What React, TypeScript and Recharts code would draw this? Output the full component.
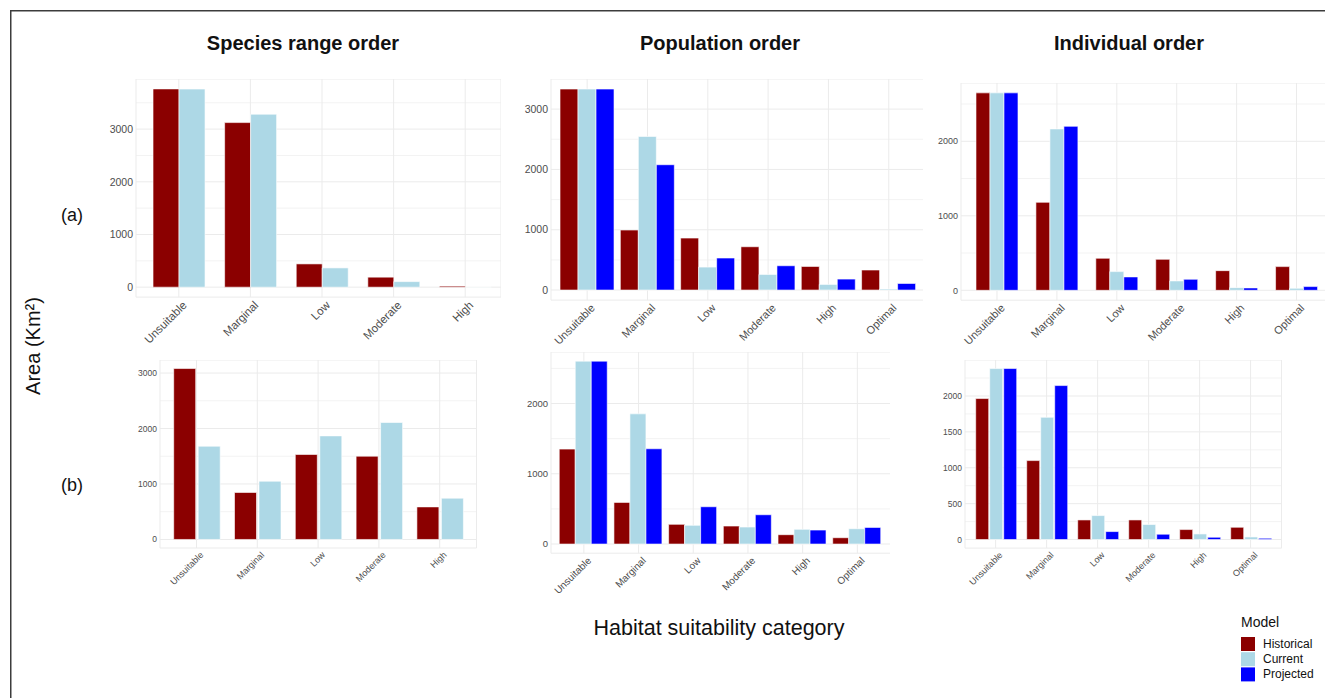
import { Bar, BarChart, CartesianGrid, XAxis, YAxis } from 'recharts'

const cats5 = ['Unsuitable', 'Marginal', 'Low', 'Moderate', 'High']
const cats6 = ['Unsuitable', 'Marginal', 'Low', 'Moderate', 'High', 'Optimal']

const modelNames = ['Historical', 'Current', 'Projected']
const modelColors = ['#8B0000', '#ADD8E6', '#0000FF']

// row (a)
const speciesA_hist = [3763, 3124, 442, 190, 20]
const speciesA_curr = [3760, 3283, 366, 106, 3]
const popA_hist = [3333, 995, 862, 718, 391, 332]
const popA_curr = [3333, 2547, 381, 259, 93, 17]
const popA_proj = [3333, 2078, 531, 403, 182, 109]
const indA_hist = [2650, 1181, 430, 416, 264, 318]
const indA_curr = [2650, 2166, 251, 126, 36, 27]
const indA_proj = [2650, 2201, 180, 148, 32, 50]

// row (b)
const speciesB_hist = [3081, 847, 1532, 1501, 587]
const speciesB_curr = [1681, 1050, 1867, 2108, 744]
const popB_hist = [1351, 593, 280, 256, 133, 90]
const popB_curr = [2603, 1853, 266, 242, 209, 218]
const popB_proj = [2603, 1356, 531, 417, 199, 237]
const indB_hist = [1964, 1100, 273, 273, 139, 171]
const indB_curr = [2382, 1703, 334, 209, 78, 36]
const indB_proj = [2382, 2145, 111, 74, 32, 18]

// axis ticks
const major1000 = [0, 1000, 2000, 3000]
const minor1000 = [500, 1500, 2500, 3500]
const major500 = [0, 500, 1000, 1500, 2000]
const minor500 = [250, 750, 1250, 1750, 2250]

const FONT = '"Liberation Sans", Arial, sans-serif'
const TICK = '#4d4d4d'
const YW = 40
const XH = 70

interface Layout {
  left: number
  right: number
  top: number
  bottom: number
  padL: number
  padR: number
  gap: string
  barGap: number
  yFont: number
  xFont: number
}

function XTick({ x, y, payload, fs }: any) {
  const ax = x + 3
  const ay = y + 3
  return (
    <text
      x={ax}
      y={ay}
      dy="0.71em"
      transform={`rotate(-45 ${ax} ${ay})`}
      textAnchor="end"
      style={{ fontSize: fs, fontFamily: FONT }}
      fill={TICK}
    >
      {payload.value}
    </text>
  )
}

function Panel({
  cats,
  series,
  major,
  minor,
  l,
}: {
  cats: string[]
  series: number[][]
  major: number[]
  minor: number[]
  l: Layout
}) {
  const data = cats.map((c, i) => {
    const row: Record<string, string | number> = { cat: c }
    series.forEach((s, k) => (row[modelNames[k]] = s[i]))
    return row
  })
  const max = Math.max(...series.flat())
  const lo = -0.05 * max
  const hi = 1.05 * max
  const ticks = major.filter((t) => t <= hi)
  const minorTicks = minor.filter((t) => t <= hi)

  return (
    <div style={{ position: 'absolute', left: l.left - YW, top: l.top }}>
      <BarChart
        width={YW + l.right - l.left}
        height={l.bottom - l.top + XH}
        data={data}
        margin={{ top: 0, right: 0, bottom: 0, left: 0 }}
        barCategoryGap={l.gap}
        barGap={l.barGap}
      >
        <CartesianGrid stroke="#f3f3f3" vertical={false} horizontalValues={minorTicks} />
        <CartesianGrid stroke="#ebebeb" />
        <XAxis
          dataKey="cat"
          height={XH}
          interval={0}
          axisLine={false}
          tickLine={false}
          tickSize={0}
          tickMargin={0}
          padding={{ left: l.padL, right: l.padR }}
          tick={<XTick fs={l.xFont} />}
        />
        <YAxis
          type="number"
          width={YW}
          domain={[lo, hi]}
          allowDataOverflow
          ticks={ticks}
          axisLine={false}
          tickLine={false}
          tickSize={1}
          tickMargin={2}
          tick={{ fontSize: l.yFont, fill: TICK, fontFamily: FONT }}
        />
        {series.map((_, k) => (
          <Bar
            key={k}
            dataKey={modelNames[k]}
            fill={modelColors[k]}
            stroke="#ffffff"
            strokeWidth={0.6}
            isAnimationActive={false}
          />
        ))}
      </BarChart>
    </div>
  )
}

export default function App() {
  return (
    <div
      style={{
        position: 'absolute',
        left: 0,
        top: 0,
        width: 1325,
        height: 698,
        overflow: 'hidden',
        background: '#fff',
      }}
    >
      <Panel
        cats={cats5}
        series={[speciesA_hist, speciesA_curr]}
        major={major1000}
        minor={minor1000}
        l={{ left: 136, right: 501, top: 79.1, bottom: 297.2, padL: 7, padR: 0, gap: '14%', barGap: 0, yFont: 10.5, xFont: 11.5 }}
      />
      <Panel
        cats={cats6}
        series={[popA_hist, popA_curr, popA_proj]}
        major={major1000}
        minor={minor1000}
        l={{ left: 550.5, right: 923, top: 79.3, bottom: 300.4, padL: 6, padR: 4.6, gap: '5%', barGap: 0, yFont: 10.5, xFont: 11 }}
      />
      <Panel
        cats={cats6}
        series={[indA_hist, indA_curr, indA_proj]}
        major={major1000}
        minor={minor1000}
        l={{ left: 961, right: 1332, top: 83.4, bottom: 300.6, padL: 6, padR: 5.5, gap: '15%', barGap: 0, yFont: 9, xFont: 11 }}
      />
      <Panel
        cats={cats5}
        series={[speciesB_hist, speciesB_curr]}
        major={major1000}
        minor={minor1000}
        l={{ left: 160.2, right: 476.7, top: 359.8, bottom: 547.8, padL: 6.1, padR: 6.4, gap: '12.5%', barGap: 2.5, yFont: 8.5, xFont: 9 }}
      />
      <Panel
        cats={cats6}
        series={[popB_hist, popB_curr, popB_proj]}
        major={major1000}
        minor={minor1000}
        l={{ left: 550.5, right: 890, top: 351.9, bottom: 553.1, padL: 5.5, padR: 5.8, gap: '5%', barGap: 0, yFont: 9.5, xFont: 10 }}
      />
      <Panel
        cats={cats6}
        series={[indB_hist, indB_curr, indB_proj]}
        major={major500}
        minor={minor500}
        l={{ left: 965.4, right: 1282, top: 359.7, bottom: 547.8, padL: 5.1, padR: 5.5, gap: '11%', barGap: 1, yFont: 8.5, xFont: 9 }}
      />

      {/* titles, labels, legend, frame */}
      <svg
        width={1325}
        height={698}
        style={{ position: 'absolute', left: 0, top: 0, pointerEvents: 'none' }}
        fontFamily={FONT}
      >
        <rect x={10.75} y={10.75} width={1340} height={720} fill="none" stroke="#3c3c3c" strokeWidth={1.5} />
        <text x={303} y={50} textAnchor="middle" fontSize={20} fontWeight="bold" fill="#111">
          Species range order
        </text>
        <text x={720} y={50} textAnchor="middle" fontSize={20} fontWeight="bold" fill="#111">
          Population order
        </text>
        <text x={1129} y={50} textAnchor="middle" fontSize={20} fontWeight="bold" fill="#111">
          Individual order
        </text>
        <text x={72} y={221} textAnchor="middle" fontSize={18} fill="#111">
          (a)
        </text>
        <text x={72} y={491} textAnchor="middle" fontSize={18} fill="#111">
          (b)
        </text>
        <text x={40} y={346} textAnchor="middle" fontSize={20} fill="#111" transform="rotate(-90 40 346)">
          Area (Km²)
        </text>
        <text x={719} y={635} textAnchor="middle" fontSize={21.5} fill="#111">
          Habitat suitability category
        </text>
        <text x={1241} y={627} fontSize={14} fill="#111">
          Model
        </text>
        {modelNames.map((m, k) => (
          <g key={m}>
            <rect x={1241} y={637 + k * 15.2} width={14} height={14} fill={modelColors[k]} />
            <text x={1263} y={648 + k * 15.2} fontSize={12} fill="#111">
              {m}
            </text>
          </g>
        ))}
      </svg>
    </div>
  )
}
